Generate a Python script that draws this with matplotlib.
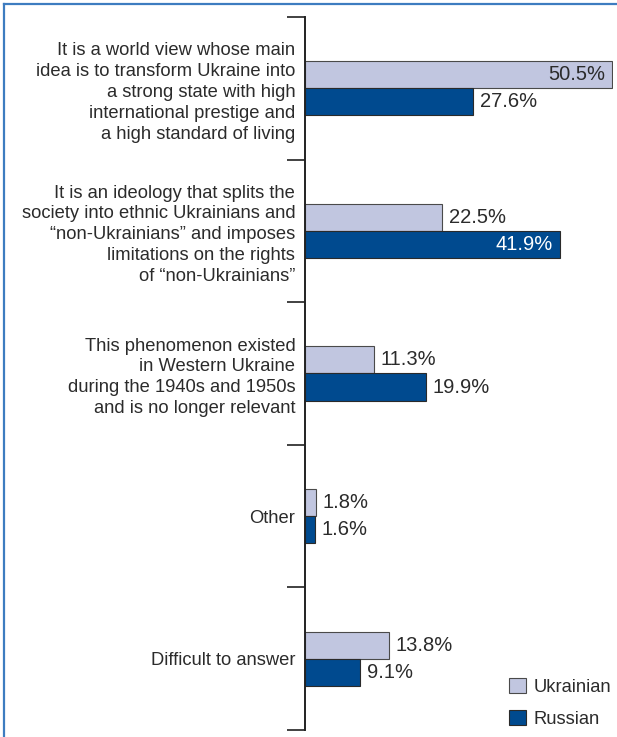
import matplotlib
matplotlib.use("Agg")
import matplotlib.pyplot as plt
from matplotlib.patches import Patch
from matplotlib.lines import Line2D

categories = [
    "It is a world view whose main\nidea is to transform Ukraine into\na strong state with high\ninternational prestige and\na high standard of living",
    "It is an ideology that splits the\nsociety into ethnic Ukrainians and\n\u201cnon-Ukrainians\u201d and imposes\nlimitations on the rights\nof \u201cnon-Ukrainians\u201d",
    "This phenomenon existed\nin Western Ukraine\nduring the 1940s and 1950s\nand is no longer relevant",
    "Other",
    "Difficult to answer",
]
series_names = ["Ukrainian", "Russian"]
ukrainian = [50.5, 22.5, 11.3, 1.8, 13.8]
russian = [27.6, 41.9, 19.9, 1.6, 9.1]

LIGHT = "#c1c6e0"
DARK = "#004a8f"
TEXT = "#2b2b2b"
FONT = ["Liberation Sans Narrow", "Liberation Sans", "DejaVu Sans"]
REG = ["Liberation Sans", "DejaVu Sans"]

W, H = 617, 737
fig = plt.figure(figsize=(W / 100, H / 100), dpi=100)
ax = fig.add_axes([305 / W, 1 - 730 / H, (613 - 305) / W, (730 - 17) / H])

n = len(categories)
ypos = list(range(n))
bh = 0.19
bars_u = ax.barh([y - bh / 2 for y in ypos], ukrainian, height=bh, color=LIGHT,
                 edgecolor="#4a4a4a", linewidth=0.8)
bars_r = ax.barh([y + bh / 2 for y in ypos], russian, height=bh, color=DARK,
                 edgecolor="#2a2a2a", linewidth=0.8)

ax.set_xlim(0, 50.65)
ax.set_ylim(n - 0.5, -0.5)

# value labels: inside the bar when it is the longest of its panel
for bars, vals, inside_color in ((bars_u, ukrainian, TEXT), (bars_r, russian, "white")):
    for b, v in zip(bars, vals):
        yc = b.get_y() + b.get_height() / 2
        label = f"{v:.1f}%"
        if v > 40:
            ax.annotate(label, (v, yc), xytext=(-5, 0), textcoords="offset points",
                        ha="right", va="center", fontsize=14.5, color=inside_color,
                        family=REG)
        else:
            ax.annotate(label, (v, yc), xytext=(5, 0), textcoords="offset points",
                        ha="left", va="center", fontsize=14.5, color=TEXT,
                        family=REG)

# category labels on major ticks, separators as minor ticks
ax.set_yticks(ypos)
ax.set_yticklabels(categories, fontsize=13.2, color=TEXT, family=FONT,
                   linespacing=1.3, ha="right")
ax.tick_params(axis="y", which="major", length=0, pad=7)
ax.set_yticks([y - 0.5 for y in range(n + 1)], minor=True)
ax.tick_params(axis="y", which="minor", length=13, width=1.3, color="#333333",
               direction="out")
ax.set_xticks([])

for s in ("top", "right", "bottom"):
    ax.spines[s].set_visible(False)
ax.spines["left"].set_linewidth(1.4)
ax.spines["left"].set_color("#222222")

handles = [Patch(facecolor=LIGHT, edgecolor="#4a4a4a", linewidth=0.8),
           Patch(facecolor=DARK, edgecolor="#2a2a2a", linewidth=0.8)]
fig.legend(handles, series_names, loc="lower right",
           bbox_to_anchor=(1.0, 0.005), frameon=False, handlelength=0.9,
           handleheight=0.9, handletextpad=0.45, labelspacing=0.75,
           prop={"family": FONT, "size": 13.2}, labelcolor=TEXT,
           borderaxespad=0.0, borderpad=0.3)

# frame lines along the top and left edges
fig.add_artist(Line2D([4 / W, 4 / W], [0, 1 - 4 / H], transform=fig.transFigure,
                      color="#3d7cc0", linewidth=1.6))
fig.add_artist(Line2D([4 / W, 1], [1 - 4 / H, 1 - 4 / H], transform=fig.transFigure,
                      color="#3d7cc0", linewidth=1.6))

fig.savefig("out.png", dpi=100)
